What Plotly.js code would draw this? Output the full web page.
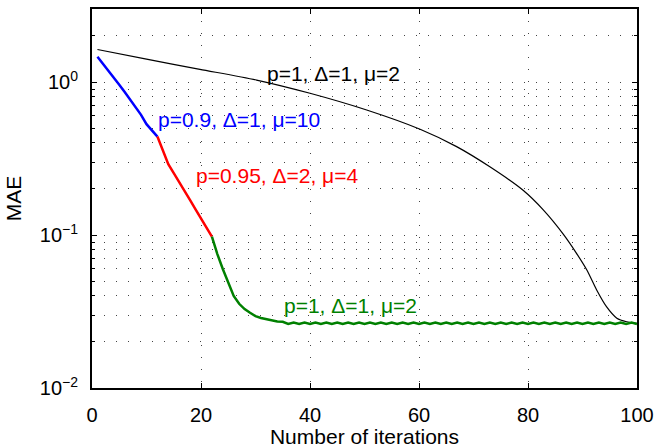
<!DOCTYPE html>
<html>
<head>
<meta charset="utf-8">
<script src="https://cdn.plot.ly/plotly-3.0.1.min.js"></script>
<style>html,body{margin:0;padding:0;background:#fff}#chart{width:657px;height:448px}</style>
</head>
<body>
<div id="chart"></div>
<script>
// Reference curve p=1, Δ=1, μ=2 (black)
const blackX = [1, 10, 19.8, 30.2, 40, 50.4, 60.2, 66.9, 73, 79.1, 82.8, 86.5, 88.9, 90.8, 92.6, 94.4, 96.3, 98.1, 100];
const blackY = [1.63, 1.41, 1.21, 1.03, 0.844, 0.656, 0.491, 0.378, 0.279, 0.196, 0.146, 0.101, 0.0759, 0.059, 0.0437, 0.034, 0.0286, 0.0271, 0.0265];

// Stage 1: p=0.9, Δ=1, μ=10 (blue)
const blueX = [1, 2, 3, 4, 5, 6, 7, 8, 9, 10, 11, 12];
const blueY = [1.46, 1.32, 1.19, 1.07, 0.96, 0.86, 0.77, 0.69, 0.61, 0.53, 0.485, 0.44];

// Stage 2: p=0.95, Δ=2, μ=4 (red)
const redX = [12, 13, 14, 15, 16, 17, 18, 19, 20, 21, 22];
const redY = [0.44, 0.352, 0.29, 0.254, 0.223, 0.195, 0.169, 0.147, 0.128, 0.112, 0.0975];

// Stage 3: p=1, Δ=1, μ=2 (green)
const greenX = [22, 23, 24, 25, 26, 27, 28, 29, 30, 31, 32, 33, 34, 35,
  36, 37, 38, 39, 40, 41, 42, 43, 44, 45, 46, 47, 48, 49, 50,
  51, 52, 53, 54, 55, 56, 57, 58, 59, 60, 61, 62, 63, 64, 65,
  66, 67, 68, 69, 70, 71, 72, 73, 74, 75, 76, 77, 78, 79, 80,
  81, 82, 83, 84, 85, 86, 87, 88, 89, 90, 91, 92, 93, 94, 95,
  96, 97, 98, 99, 100];
const greenY = [0.0975, 0.075, 0.060, 0.049, 0.040, 0.0355, 0.0328, 0.031, 0.0295, 0.0287, 0.0281, 0.0277, 0.0272, 0.0271,
  0.0262, 0.0268, 0.0262, 0.0268, 0.0262, 0.0268, 0.0262, 0.0268, 0.0262, 0.0268, 0.0262, 0.0268, 0.0262, 0.0268, 0.0262,
  0.0268, 0.0262, 0.0268, 0.0262, 0.0268, 0.0262, 0.0268, 0.0262, 0.0268, 0.0262, 0.0268, 0.0262, 0.0268, 0.0262, 0.0268,
  0.0262, 0.0268, 0.0262, 0.0268, 0.0262, 0.0268, 0.0262, 0.0268, 0.0262, 0.0268, 0.0262, 0.0268, 0.0262, 0.0268, 0.0262,
  0.0268, 0.0262, 0.0268, 0.0262, 0.0268, 0.0262, 0.0268, 0.0262, 0.0268, 0.0262, 0.0268, 0.0262, 0.0268, 0.0262, 0.0268,
  0.0262, 0.0268, 0.0262, 0.0268, 0.0262];

const xTicks = [0, 20, 40, 60, 80, 100];
const yTicks = [0.01, 0.1, 1];
const yTickText = ['10<sup>\u22122</sup>', '10<sup>\u22121</sup>', '10<sup>0</sup>'];
const yMinor = [0.02,0.03,0.04,0.05,0.06,0.07,0.08,0.09,0.2,0.3,0.4,0.5,0.6,0.7,0.8,0.9,2,3];

const labels = [
  {text: 'p=1, \u0394=1, \u03bc=2', x: 44.3, y: 1.14, color: '#000000'},
  {text: 'p=0.9, \u0394=1, \u03bc=10', x: 27.0, y: 0.57, color: '#0000ff'},
  {text: 'p=0.95, \u0394=2, \u03bc=4', x: 34.0, y: 0.245, color: '#ff0000'},
  {text: 'p=1, \u0394=1, \u03bc=2', x: 47.5, y: 0.0348, color: '#008000'}
];

const fontFam = 'Liberation Sans, Arial, Helvetica, sans-serif';

const traces = [
  {x: blackX, y: blackY, mode: 'lines', line: {color: '#000000', width: 1.2, shape: 'spline', smoothing: 0.7}},
  {x: blueX, y: blueY, mode: 'lines', line: {color: '#0000ff', width: 2.5}},
  {x: redX, y: redY, mode: 'lines', line: {color: '#ff0000', width: 2.5}},
  {x: greenX, y: greenY, mode: 'lines', line: {color: '#008000', width: 2.5}}
];

const gridStyle = {gridcolor: '#444444', gridwidth: 1, griddash: '1px,11px'};

const layout = {
  width: 657, height: 448,
  margin: {l: 92, r: 20, t: 9, b: 60},
  paper_bgcolor: '#ffffff', plot_bgcolor: '#ffffff',
  showlegend: false,
  font: {family: fontFam, size: 20, color: '#000000'},
  xaxis: Object.assign({
    range: [0, 100], tickvals: xTicks, ticktext: xTicks.map(String),
    ticks: 'inside', ticklen: 5, tickwidth: 1, tickcolor: '#000',
    showline: true, linecolor: '#000', linewidth: 2, mirror: 'ticks',
    showgrid: true, zeroline: false,
    ticklabelstandoff: 8,
    tickfont: {size: 20},
    title: {text: 'Number of iterations', font: {size: 21}, standoff: 4},
    automargin: false
  }, gridStyle),
  yaxis: Object.assign({
    type: 'log', range: [-2, Math.log10(3)],
    tickvals: yTicks, ticktext: yTickText,
    ticks: 'inside', ticklen: 5, tickwidth: 1, tickcolor: '#000',
    showline: true, linecolor: '#000', linewidth: 2, mirror: 'ticks',
    showgrid: true, zeroline: false,
    ticklabelstandoff: 8,
    tickfont: {size: 20},
    title: {text: 'MAE', font: {size: 21}, standoff: 12},
    automargin: false,
    minor: Object.assign({tickvals: yMinor, ticks: 'inside', ticklen: 3, tickcolor: '#000', showgrid: true}, gridStyle)
  }, gridStyle),
  annotations: labels.map(l => ({
    text: l.text, x: l.x, y: Math.log10(l.y), xref: 'x', yref: 'y',
    showarrow: false, xanchor: 'center', yanchor: 'middle',
    font: {family: fontFam, size: 21, color: l.color}
  }))
};

Plotly.newPlot('chart', traces, layout, {displayModeBar: false, staticPlot: true});
</script>
</body>
</html>
